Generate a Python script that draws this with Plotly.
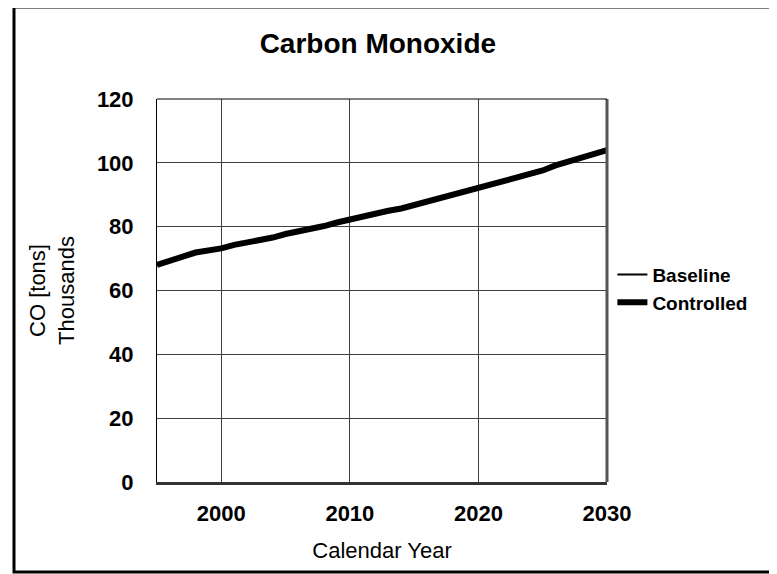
import plotly.graph_objects as go

years = list(range(1995, 2031))
baseline = [68.0, 69.5, 70.6, 71.9, 72.5, 73.2, 74.3, 75.0, 76.0, 76.6,
            77.7, 78.4, 79.4, 80.2, 81.3, 82.3, 83.0, 84.1, 85.0, 85.7,
            86.8, 87.9, 89.0, 90.1, 90.8, 92.0, 93.1, 94.2, 95.4, 96.5,
            97.6, 99.2, 100.5, 101.7, 102.8, 104.0]
controlled = [68.0, 69.5, 70.6, 71.9, 72.5, 73.2, 74.3, 75.0, 76.0, 76.6,
              77.7, 78.4, 79.4, 80.2, 81.3, 82.3, 83.0, 84.1, 85.0, 85.7,
              86.8, 87.9, 89.0, 90.1, 90.8, 92.0, 93.1, 94.2, 95.4, 96.5,
              97.6, 99.2, 100.5, 101.7, 102.8, 104.0]
x_ticks = [2000, 2010, 2020, 2030]
y_ticks = [0, 20, 40, 60, 80, 100, 120]

FONT = "Liberation Sans, Arial, sans-serif"

fig = go.Figure()
fig.add_trace(go.Scatter(x=years, y=baseline, mode="lines", name="Baseline",
                         line=dict(color="black", width=2)))
fig.add_trace(go.Scatter(x=years, y=controlled, mode="lines", name="Controlled",
                         line=dict(color="black", width=6)))

fig.update_layout(
    width=777, height=574,
    margin=dict(l=149, r=178, t=91, b=100),
    paper_bgcolor="white", plot_bgcolor="white",
    font=dict(family=FONT, color="black"),
    title=dict(text="<b>Carbon Monoxide</b>", x=0.476, xanchor="center",
               y=1 - 35 / 574, yanchor="middle",
               font=dict(size=28, family=FONT, color="black")),
    showlegend=True,
    legend=dict(x=1.012, xanchor="left", y=0.505, yanchor="middle",
                font=dict(size=19, family=FONT, color="black", weight="bold"),
                itemwidth=30, tracegroupgap=0, bgcolor="rgba(0,0,0,0)"),
    xaxis=dict(range=[1995, 2030], tickvals=x_ticks, ticktext=[str(v) for v in x_ticks],
               showgrid=True, gridcolor="#404040", gridwidth=1,
               showline=True, linecolor="#333333", linewidth=3,
               zeroline=False, ticks="", ticklabelstandoff=10,
               tickfont=dict(size=22, family=FONT, color="black", weight="bold"),
               title=dict(text="Calendar Year", standoff=18,
                          font=dict(size=22, family=FONT, color="black"))),
    yaxis=dict(range=[0, 120], tickvals=y_ticks, ticktext=[str(v) for v in y_ticks],
               showgrid=True, gridcolor="#404040", gridwidth=1,
               showline=True, linecolor="black", linewidth=1,
               zeroline=False, ticks="", ticklabelstandoff=18,
               tickfont=dict(size=22, family=FONT, color="black", weight="bold"),
               title=dict(text="CO [tons]<br>Thousands", standoff=16,
                          font=dict(size=22, family=FONT, color="black"))),
    shapes=[
        dict(type="line", xref="paper", yref="paper", x0=1, x1=1, y0=0, y1=1,
             line=dict(color="#555555", width=3)),
        dict(type="line", xref="paper", yref="paper", x0=0, x1=1, y0=1, y1=1,
             line=dict(color="black", width=1)),
        dict(type="rect", xref="paper", yref="paper",
             x0=(14 - 157) / 450, x1=(800 - 157) / 450,
             y0=(482 - 572) / 383, y1=(482 - 7) / 383,
             line=dict(color="black", width=3), fillcolor="rgba(0,0,0,0)",
             layer="above"),
    ],
)

fig.write_html("out.html")
